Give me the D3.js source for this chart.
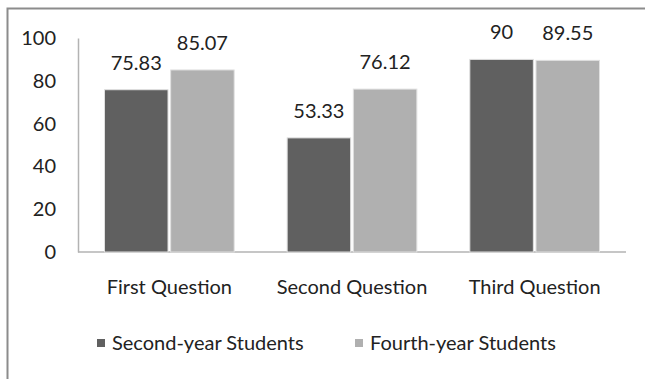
<!DOCTYPE html>
<html>
<head>
<meta charset="utf-8">
<script src="https://cdn.jsdelivr.net/npm/d3@7"></script>
<style>
  body { margin: 0; background: #fff; }
  svg text { font-family: Lato, "Open Sans", sans-serif; fill: #222; }
</style>
</head>
<body>
<svg id="chart" width="645" height="379"></svg>
<script>
// chart values
const categories = ["First Question", "Second Question", "Third Question"];
const seriesNames = ["Second-year Students", "Fourth-year Students"];
const secondYear = [75.83, 53.33, 90];
const fourthYear = [85.07, 76.12, 89.55];
const yTicks = [0, 20, 40, 60, 80, 100];

const colours = ["#606060", "#b0b0b0"];

var svg = d3.select("#chart");

// outer frame, runs off the right and bottom of the picture
svg.append("rect")
  .attr("x", 7.5).attr("y", 8.5)
  .attr("width", 700).attr("height", 400)
  .attr("fill", "none")
  .attr("stroke", "#8c8c8c")
  .attr("stroke-width", 2);

var plot = {left: 78, right: 626, top: 38, bottom: 252};

var x = d3.scaleBand()
  .domain(categories)
  .range([plot.left, plot.right])
  .paddingInner(0.29)
  .paddingOuter(0.145);

var sub = d3.scaleBand()
  .domain([0, 1])
  .range([0, x.bandwidth()])
  .paddingInner(0.04);

var y = d3.scaleLinear().domain([0, 100]).range([plot.bottom, plot.top]);

// y axis labels
var yAxis = d3.axisLeft(y).tickValues(yTicks).tickSize(0).tickPadding(22);
var yg = svg.append("g")
  .attr("transform", "translate(" + plot.left + ",0)")
  .call(yAxis);
yg.select(".domain").attr("stroke", "#b3b3b3").attr("stroke-width", 1.5);
yg.selectAll("text").attr("font-size", 20).attr("font-family", null).style("fill", "#222");

// baseline
svg.append("line")
  .attr("x1", plot.left).attr("x2", plot.right)
  .attr("y1", y(0)).attr("y2", y(0))
  .attr("stroke", "#b3b3b3").attr("stroke-width", 1.5);

var rows = categories.map(function(c, i) {
  return {cat: c, vals: [secondYear[i], fourthYear[i]]};
});

var groups = svg.selectAll(".grp")
  .data(rows)
  .enter().append("g").attr("class", "grp")
  .attr("transform", function(d) { return "translate(" + x(d.cat) + ",0)"; });

groups.selectAll("rect")
  .data(function(d) { return d.vals; })
  .enter().append("rect")
  .attr("x", function(d, i) { return sub(i); })
  .attr("width", sub.bandwidth())
  .attr("y", function(d) { return y(d); })
  .attr("height", function(d) { return y(0) - y(d); })
  .attr("fill", function(d, i) { return colours[i]; })
  .attr("stroke", "#e0e0e0")
  .attr("stroke-width", 1);

groups.selectAll(".val")
  .data(function(d) { return d.vals; })
  .enter().append("text").attr("class", "val")
  .attr("x", function(d, i) { return sub(i) + sub.bandwidth() / 2; })
  .attr("y", function(d) { return y(d) - 20; })
  .attr("text-anchor", "middle")
  .attr("font-size", 20)
  .text(function(d) { return d; });

// category labels
svg.selectAll(".cat")
  .data(categories)
  .enter().append("text").attr("class", "cat")
  .attr("x", function(d) { return x(d) + x.bandwidth() / 2; })
  .attr("y", 294)
  .attr("text-anchor", "middle")
  .attr("font-size", 20)
  .text(function(d) { return d; });

// legend
var legendX = [97, 355];
var lg = svg.selectAll(".leg")
  .data(seriesNames)
  .enter().append("g").attr("class", "leg")
  .attr("transform", function(d, i) { return "translate(" + legendX[i] + ",343)"; });
lg.append("rect")
  .attr("x", 0).attr("y", -4)
  .attr("width", 8).attr("height", 8)
  .attr("fill", function(d, i) { return colours[i]; });
lg.append("text")
  .attr("x", 15).attr("y", 7)
  .attr("font-size", 20)
  .text(function(d) { return d; });
</script>
</body>
</html>
